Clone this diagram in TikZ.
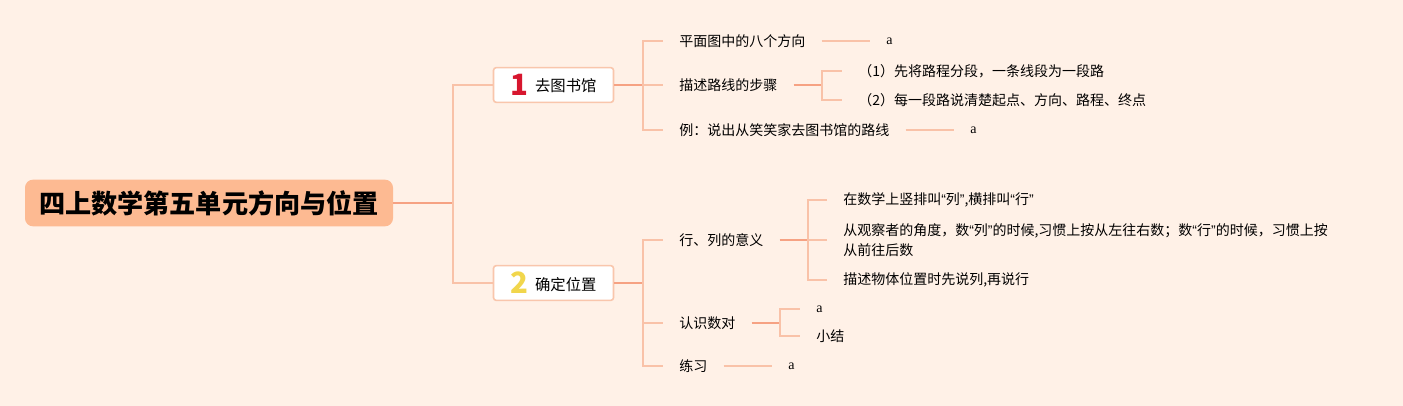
\documentclass[tikz,border=0pt]{standalone}
\usepackage{fontspec}
\setmainfont{Noto Sans CJK SC}
\newfontfamily\serifa{Liberation Serif}
\newfontfamily\quotefont{Liberation Sans}
\usepackage{tikz}
\usetikzlibrary{positioning}

\definecolor{bgpeach}{HTML}{FFF1E7}
\definecolor{rootfill}{HTML}{FDBA92}
\definecolor{lnklight}{HTML}{F9C2A8}
\definecolor{lnkdark}{HTML}{F6A283}
\definecolor{boxline}{HTML}{F9C6AC}
\definecolor{numred}{HTML}{D7162E}
\definecolor{numyellow}{HTML}{F1D64C}

\tikzset{
	rootbox/.style={rounded corners=6pt, fill=rootfill, minimum width=276pt, minimum height=35pt, inner sep=0pt, font=\fontsize{19.6}{20}\selectfont\bfseries},
	topicbox/.style={draw=boxline, line width=1.2pt, rounded corners=2pt, fill=white, minimum width=90pt, minimum height=26pt, inner sep=0pt, font=\fontsize{11.5}{14}\selectfont},
	leaf/.style={anchor=west, inner xsep=12pt, inner ysep=2pt, align=left, font=\fontsize{10.5}{15}\selectfont},
	aleaf/.style={leaf, font=\fontsize{10.5}{15}\serifa},
	lnk/.style={lnklight, line width=1.3pt},
	lnkd/.style={lnkdark, line width=1.5pt}
}
\newcommand{\topicnum}[2] % {colour}{digit}
{\raisebox{-2.75pt}{\fontsize{22}{22}\selectfont\bfseries\color{#1}#2}\hspace{5pt}}
\newcommand{\cq}[1]{{\quotefont “}#1{\quotefont ”}} % narrow quotes

\begin{document}
\begin{tikzpicture}[x=0.75pt, y=-0.75pt]
	% background and frame
	\fill[bgpeach] (0,0) rectangle (1403,406);
	\useasboundingbox (0,0) rectangle (1403,406);

	% root and the two topics
	\node[rootbox] (root) at (209,203) {四上数学第五单元方向与位置};
	\node[topicbox] (topA) at (553.5,85) {\topicnum{numred}{1}去图书馆};
	\node[topicbox] (topB) at (553.5,283) {\topicnum{numyellow}{2}确定位置};

	\coordinate (j0) at (453,203);
	\draw[lnkd] (root.east) -- (j0);
	\draw[lnk] (j0) |- (topA.west);
	\draw[lnk] (j0) |- (topB.west);

	% topic 1
	\node[leaf] (dirs) at (663,41) {平面图中的八个方向};
	\node[leaf] (steps) at (663,85) {描述路线的步骤};
	\node[leaf] (route) at (663,130) {例：说出从笑笑家去图书馆的路线};
	\node[aleaf] (dirsA) at (870,41) {a};
	\node[aleaf] (routeA) at (954,130) {a};
	\node[leaf] (stepOne) at (842,71) {（1）先将路程分段，一条线段为一段路};
	\node[leaf] (stepTwo) at (842,100) {（2）每一段路说清楚起点、方向、路程、终点};

	\coordinate (jA) at (643,85);
	\draw[lnkd] (topA.east) -- (jA);
	\draw[lnk] (jA) |- (dirs.west);
	\draw[lnk] (jA) -- (steps.west);
	\draw[lnk] (jA) |- (route.west);
	\draw[lnk] (dirs.east) -- (dirsA.west);
	\draw[lnk] (route.east) -- (routeA.west);

	\coordinate (jSteps) at (822,85);
	\draw[lnkd] (steps.east) -- (jSteps);
	\draw[lnk] (jSteps) |- (stepOne.west);
	\draw[lnk] (jSteps) |- (stepTwo.west);

	% topic 2
	\node[leaf] (rows) at (663,240) {行、列的意义};
	\node[leaf] (pairs) at (663,323) {认识数对};
	\node[leaf] (drill) at (663,366) {练习};
	\node[leaf] (rowsOne) at (827,200) {在数学上竖排叫\cq{列},横排叫\cq{行}};
	\node[leaf] (rowsTwo) at (827,240) {从观察者的角度，数\cq{列}的时候,习惯上按从左往右数；数\cq{行}的时候，习惯上按\\从前往后数};
	\node[leaf] (rowsThree) at (827,280) {描述物体位置时先说列,再说行};
	\node[aleaf] (pairsA) at (800,309) {a};
	\node[leaf] (pairsSum) at (800,336) {小结};
	\node[aleaf] (drillA) at (772,366) {a};

	\coordinate (jB) at (643,283);
	\draw[lnkd] (topB.east) -- (jB);
	\draw[lnk] (jB) |- (rows.west);
	\draw[lnk] (jB) |- (pairs.west);
	\draw[lnk] (jB) |- (drill.west);
	\draw[lnk] (drill.east) -- (drillA.west);

	\coordinate (jRows) at (808,240);
	\draw[lnkd] (rows.east) -- (jRows);
	\draw[lnk] (jRows) |- (rowsOne.west);
	\draw[lnk] (jRows) -- (rowsTwo.west);
	\draw[lnk] (jRows) |- (rowsThree.west);

	\coordinate (jPairs) at (780,323);
	\draw[lnkd] (pairs.east) -- (jPairs);
	\draw[lnk] (jPairs) |- (pairsA.west);
	\draw[lnk] (jPairs) |- (pairsSum.west);
\end{tikzpicture}
\end{document}
